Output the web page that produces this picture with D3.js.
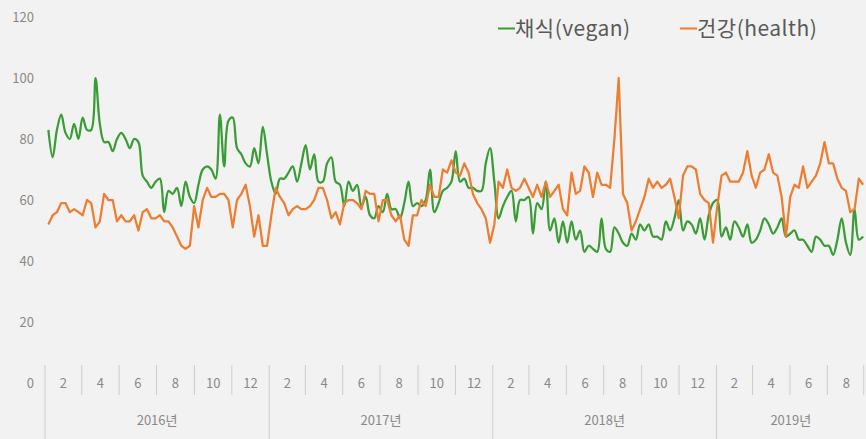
<!DOCTYPE html>
<html>
<head>
<meta charset="utf-8">
<script src="https://cdn.jsdelivr.net/npm/d3@7"></script>
<style>
  body { margin: 0; background: #f2f2f2; }
  text { font-family: "Noto Sans CJK KR", "Noto Sans", sans-serif; }
</style>
</head>
<body>
<script>
// Weekly search interest (max = 100), one value per week from early Jan 2016
var veganValues = [
  83,74,83,88,82,80,85,80,87,83,83,100,85,79,79,76,80,82,80,77,
  80,79,68,66,64,66,67,56,63,62,64,58,66,61,59,65,70,71,70,67,
  88,71,86,87,77,75,72,71,77,72,84,75,66,62,
  67,67,69,71,66,72,78,70,75,66,66,72,74,66,65,58,66,63,65,58,
  61,55,54,58,56,62,57,57,54,
  59,66,58,59,58,60,70,56,59,63,64,66,76,66,67,64,64,63,63,72,
  77,66,54,58,61,63,53,60,60,
  61,49,59,57,66,50,54,46,53,46,53,47,50,43,45,44,43,54,44,43,
  51,49,46,45,49,47,52,50,52,
  48,48,47,53,50,54,60,50,53,52,49,54,47,55,59,60,48,51,47,53,
  51,48,52,46,47,50,54,
  52,49,51,54,48,49,50,47,47,45,43,48,47,45,45,42,47,54,46,42,
  57,47,48
];
var healthValues = [
  52,55,56,59,59,56,57,56,55,60,59,51,53,62,60,60,53,55,53,53,
  55,50,56,57,54,54,55,53,53,51,48,45,44,45,58,51,60,64,61,61,
  62,62,60,51,60,62,65,58,48,55,45,45,55,64,61,
  59,55,57,58,57,57,58,60,64,64,60,54,56,52,59,60,60,59,57,63,
  62,62,53,60,60,55,53,55,
  47,45,55,55,60,58,65,61,61,70,69,73,69,68,72,69,62,59,57,54,
  46,52,66,64,70,64,63,64,67,
  64,61,65,61,66,61,63,65,57,55,69,62,63,71,69,61,69,65,65,64,
  80,100,62,59,50,53,57,61,67,
  64,66,64,65,67,61,54,68,71,71,70,62,60,59,46,58,68,69,66,66,
  66,69,76,68,64,69,70,
  75,69,68,61,48,61,65,64,71,64,66,68,72,79,72,72,67,64,63,56,
  57,67,65
];
var seriesNames = ["채식(vegan)", "건강(health)"];
var seriesColors = ["#3a9c35", "#ed7d31"];
var years = [2016, 2017, 2018, 2019];
var yearLabels = ["2016년", "2017년", "2018년", "2019년"];
var monthLabels = ["2", "4", "6", "8", "10", "12"];
var yTicks = [0, 20, 40, 60, 80, 100, 120];

var firstWeek = new Date(Date.UTC(2016, 0, 6, 12)); // middle of first week
var axisEnd = new Date(Date.UTC(2019, 8, 1));      // last month shown

var svgWidth = 866;
var svgHeight = 439;

var svg = d3.select("body")
  .append("svg")
  .attr("width", svgWidth)
  .attr("height", svgHeight);

svg.append("rect")
  .attr("width", svgWidth)
  .attr("height", svgHeight)
  .attr("fill", "#f2f2f2");

var weeks = veganValues.map((d, i) => d3.utcDay.offset(firstWeek, i * 7));

var xScale = d3.scaleUtc()
  .domain([new Date(Date.UTC(2016, 0, 1)), new Date(Date.UTC(2020, 0, 1))])
  .range([45, 940]);

var yScale = d3.scaleLinear()
  .domain([0, 120])
  .range([383, 17]);

// y labels (no axis line, no gridlines)
svg.append("g")
  .selectAll("text")
  .data(yTicks)
  .enter()
  .append("text")
  .attr("x", 34)
  .attr("y", d => yScale(d))
  .attr("dy", "0.35em")
  .attr("text-anchor", "end")
  .attr("font-size", 13)
  .attr("fill", "#898989")
  .text(d => d);

// two-level category axis: 2-month blocks inside years
var axisG = svg.append("g");
var lineColor = "#cdcdcd";

years.forEach(function(yr, yi) {
  var yStart = new Date(Date.UTC(yr, 0, 1));
  var yEnd = new Date(Math.min(Date.UTC(yr + 1, 0, 1), +axisEnd));

  axisG.append("line")
    .attr("x1", xScale(yStart)).attr("x2", xScale(yStart))
    .attr("y1", 365).attr("y2", 439)
    .attr("stroke", lineColor);

  axisG.append("text")
    .attr("x", (xScale(yStart) + xScale(yEnd)) / 2)
    .attr("y", 420)
    .attr("dy", "0.35em")
    .attr("text-anchor", "middle")
    .attr("font-size", 13)
    .attr("fill", "#898989")
    .text(yearLabels[yi]);

  monthLabels.forEach(function(m, mi) {
    var bStart = new Date(Date.UTC(yr, mi * 2, 1));
    var bEnd = new Date(Date.UTC(yr, mi * 2 + 2, 1));
    if (bStart >= axisEnd) return;
    if (mi > 0) {
      axisG.append("line")
        .attr("x1", xScale(bStart)).attr("x2", xScale(bStart))
        .attr("y1", 365).attr("y2", 395)
        .attr("stroke", lineColor);
    }
    if (+bEnd === +axisEnd) {
      axisG.append("line")
        .attr("x1", xScale(bEnd) - 1.5).attr("x2", xScale(bEnd) - 1.5)
        .attr("y1", 365).attr("y2", 395)
        .attr("stroke", lineColor);
    }
    axisG.append("text")
      .attr("x", (xScale(bStart) + xScale(bEnd)) / 2)
      .attr("y", 383)
      .attr("dy", "0.35em")
      .attr("text-anchor", "middle")
      .attr("font-size", 13)
      .attr("fill", "#898989")
      .text(m);
  });
});

// series lines
var veganLine = d3.line()
  .x((d, i) => xScale(weeks[i]))
  .y(d => yScale(d))
  .curve(d3.curveCatmullRom.alpha(0.5));

var healthLine = d3.line()
  .x((d, i) => xScale(weeks[i]))
  .y(d => yScale(d));

svg.append("path")
  .datum(veganValues)
  .attr("fill", "none")
  .attr("stroke", seriesColors[0])
  .attr("stroke-width", 2.25)
  .attr("stroke-linejoin", "round")
  .attr("d", veganLine);

svg.append("path")
  .datum(healthValues)
  .attr("fill", "none")
  .attr("stroke", seriesColors[1])
  .attr("stroke-width", 2.25)
  .attr("stroke-linejoin", "round")
  .attr("d", healthLine);

// legend
var legendX = [498, 680];
var legend = svg.append("g");
seriesNames.forEach(function(name, i) {
  legend.append("line")
    .attr("x1", legendX[i]).attr("x2", legendX[i] + 17)
    .attr("y1", 28.5).attr("y2", 28.5)
    .attr("stroke", seriesColors[i])
    .attr("stroke-width", 2);
  legend.append("text")
    .attr("x", legendX[i] + 17)
    .attr("y", 29)
    .attr("dy", "0.35em")
    .attr("font-size", 21)
    .attr("letter-spacing", 0.5)
    .attr("fill", "#595959")
    .text(name);
});
</script>
</body>
</html>
